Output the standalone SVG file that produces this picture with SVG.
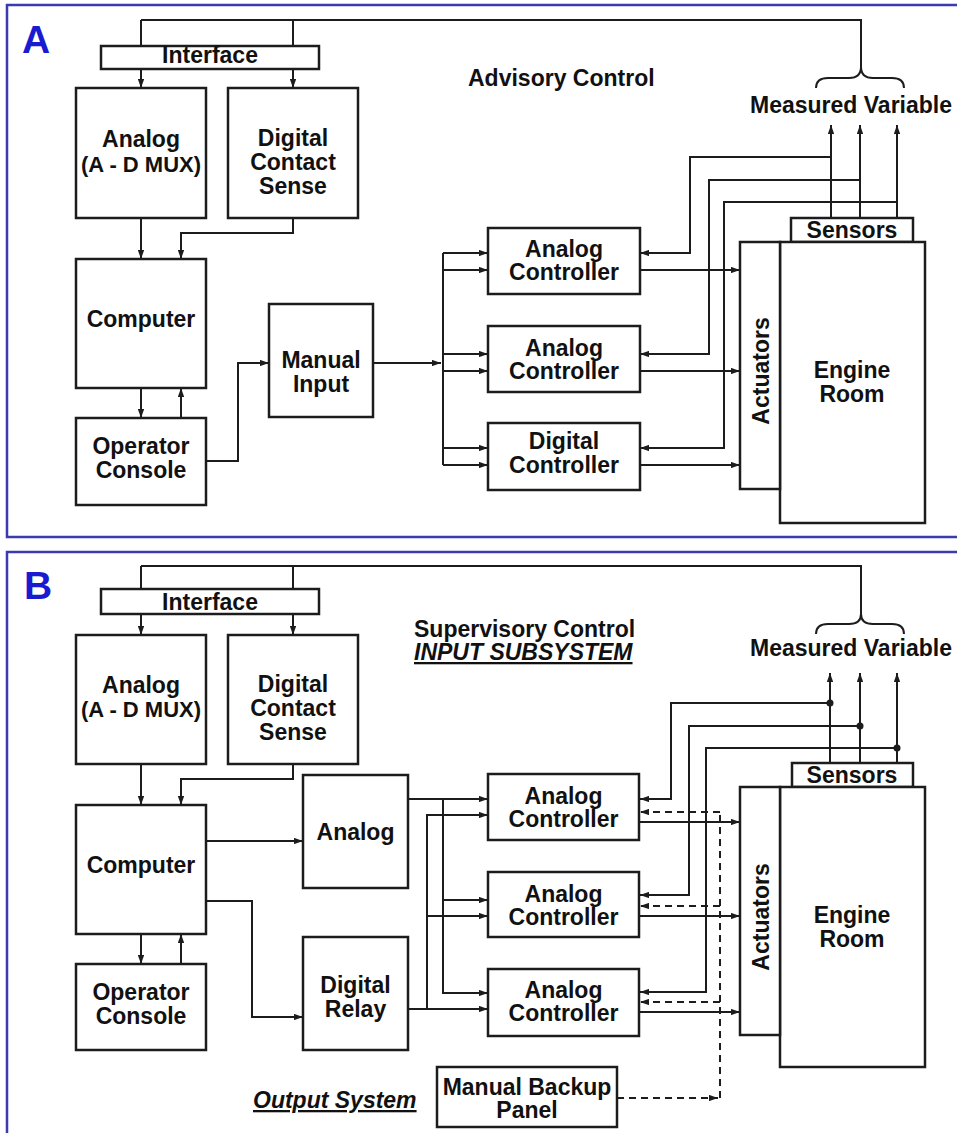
<svg xmlns="http://www.w3.org/2000/svg" width="957" height="1133" viewBox="0 0 957 1133">
<defs>
<marker id="ah" viewBox="0 0 10 7" refX="10" refY="3.5" markerWidth="9" markerHeight="6.5" markerUnits="userSpaceOnUse" orient="auto"><path d="M0,0 L10,3.5 L0,7 z" fill="#1c1c1c"/></marker>
<style>
.panel{fill:none;stroke:#3b3bb0;stroke-width:2.5}
.box{fill:#fff;stroke:#1c1c1c;stroke-width:2.5}
.t{font-family:"Liberation Sans",Arial,sans-serif;font-weight:bold;font-size:23px;fill:#111;text-anchor:middle}
.s{text-anchor:start}
.it{font-style:italic;text-decoration:underline}
.big{font-size:39px;fill:#1a1ad0;text-anchor:start}
.ln{fill:none;stroke:#1c1c1c;stroke-width:2}
.ar{marker-end:url(#ah)}
.dash{stroke-dasharray:7 5}
.dot{fill:#1c1c1c}
</style>
</defs>
<rect width="957" height="1133" fill="#fff"/>
<rect class="panel" x="7" y="5" width="1000" height="532"/>
<rect class="panel" x="7" y="552" width="1000" height="620"/>

<g id="labels">
<text class="t big" x="22" y="53">A</text>
<text class="t s" x="468" y="86">Advisory Control</text>
<text class="t s" x="750" y="113">Measured Variable</text>
<text class="t big" x="24" y="599">B</text>
<text class="t s" x="414" y="637">Supervisory Control</text>
<text class="t s it" x="414" y="660">INPUT SUBSYSTEM</text>
<text class="t s" x="750" y="656">Measured Variable</text>
<text class="t s it" x="253" y="1108">Output System</text>
</g>

<g id="connectors">
<!-- Panel A -->
<path class="ln" d="M141,20 H861 V67"/>
<path class="ln" d="M816,88 Q816,78 828,78 L849,78 Q861,78 861,67 Q861,78 873,78 L892,78 Q904,78 904,88"/>
<path class="ln ar" d="M141,20 V88"/>
<path class="ln ar" d="M293,20 V88"/>
<path class="ln ar" d="M141,218 V259"/>
<path class="ln ar" d="M293,218 V233 H181 V259"/>
<path class="ln ar" d="M141,388 V418"/>
<path class="ln ar" d="M181,418 V388"/>
<path class="ln ar" d="M206,461 H238 V363 H269"/>
<path class="ln ar" d="M373,363 H441"/>
<path class="ln" d="M443,253 V465"/>
<path class="ln ar" d="M443,253 H488"/>
<path class="ln ar" d="M443,270 H488"/>
<path class="ln ar" d="M443,354 H488"/>
<path class="ln ar" d="M443,371 H488"/>
<path class="ln ar" d="M443,448 H488"/>
<path class="ln ar" d="M443,465 H488"/>
<path class="ln ar" d="M831,157 H690 V253 H640"/>
<path class="ln ar" d="M860,180 H709 V354 H640"/>
<path class="ln ar" d="M897,202 H724 V448 H640"/>
<path class="ln ar" d="M831,218 V125"/>
<path class="ln ar" d="M860,218 V125"/>
<path class="ln ar" d="M897,218 V125"/>
<path class="ln ar" d="M640,270 H740"/>
<path class="ln ar" d="M640,371 H740"/>
<path class="ln ar" d="M640,465 H740"/>
<!-- Panel B -->
<path class="ln" d="M141,566 H861 V614"/>
<path class="ln" d="M816,634 Q816,624 828,624 L849,624 Q861,624 861,614 Q861,624 873,624 L892,624 Q904,624 904,634"/>
<path class="ln ar" d="M141,566 V635"/>
<path class="ln ar" d="M293,566 V635"/>
<path class="ln ar" d="M141,764 V805"/>
<path class="ln ar" d="M293,764 V779 H181 V805"/>
<path class="ln ar" d="M141,934 V964"/>
<path class="ln ar" d="M181,964 V934"/>
<path class="ln ar" d="M206,841 H303"/>
<path class="ln ar" d="M206,901 H252 V1017 H303"/>
<path class="ln ar" d="M408,799 H488"/>
<path class="ln ar" d="M443,799 V993 H488"/>
<path class="ln ar" d="M443,900 H488"/>
<path class="ln ar" d="M408,1009 H488"/>
<path class="ln ar" d="M427,1009 V815 H488"/>
<path class="ln ar" d="M427,916 H488"/>
<path class="ln ar" d="M830,703 H671 V799 H640"/>
<path class="ln ar" d="M860,726 H689 V895 H640"/>
<path class="ln ar" d="M897,748 H706 V992 H640"/>
<circle class="dot" cx="830" cy="703" r="3.5"/>
<circle class="dot" cx="860" cy="726" r="3.5"/>
<circle class="dot" cx="897" cy="748" r="3.5"/>
<path class="ln ar" d="M830,763 V673"/>
<path class="ln ar" d="M860,763 V673"/>
<path class="ln ar" d="M897,763 V673"/>
<path class="ln ar" d="M640,822 H740"/>
<path class="ln ar" d="M640,916 H740"/>
<path class="ln ar" d="M640,1012 H740"/>
<path class="ln dash ar" d="M617,1098 H718"/>
<path class="ln dash" d="M720,1098 V812"/>
<path class="ln dash ar" d="M720,812 H640"/>
<path class="ln dash ar" d="M720,906 H640"/>
<path class="ln dash ar" d="M720,1002 H640"/>
</g>

<!-- Panel A nodes -->
<g id="interfaceA"><rect class="box" x="101" y="46" width="218" height="23"/><text class="t" x="210" y="63">Interface</text></g>
<g id="analogA"><rect class="box" x="76" y="88" width="130" height="130"/><text class="t" x="141" y="147">Analog</text><text class="t" x="141" y="172" style="font-size:22px">(A - D MUX)</text></g>
<g id="dcsA"><rect class="box" x="228" y="88" width="130" height="130"/><text class="t" x="293" y="146">Digital</text><text class="t" x="293" y="170">Contact</text><text class="t" x="293" y="194">Sense</text></g>
<g id="computerA"><rect class="box" x="76" y="259" width="130" height="129"/><text class="t" x="141" y="327">Computer</text></g>
<g id="operatorA"><rect class="box" x="76" y="418" width="130" height="87"/><text class="t" x="141" y="454">Operator</text><text class="t" x="141" y="478">Console</text></g>
<g id="manualInputA"><rect class="box" x="269" y="304" width="104" height="113"/><text class="t" x="321" y="368">Manual</text><text class="t" x="321" y="392">Input</text></g>
<g id="ctrl1A"><rect class="box" x="488" y="228" width="152" height="66"/><text class="t" x="564" y="257">Analog</text><text class="t" x="564" y="280">Controller</text></g>
<g id="ctrl2A"><rect class="box" x="488" y="326" width="152" height="66"/><text class="t" x="564" y="356">Analog</text><text class="t" x="564" y="379">Controller</text></g>
<g id="ctrl3A"><rect class="box" x="488" y="423" width="152" height="67"/><text class="t" x="564" y="449">Digital</text><text class="t" x="564" y="473">Controller</text></g>
<g id="sensorsA"><rect class="box" x="791" y="218" width="122" height="24"/><text class="t" x="852" y="238">Sensors</text></g>
<g id="engineA"><rect class="box" x="780" y="242" width="145" height="281"/><text class="t" x="852" y="378">Engine</text><text class="t" x="852" y="402">Room</text></g>
<g id="actuatorsA"><rect class="box" x="740" y="242" width="40" height="247"/><text class="t" transform="translate(769,371) rotate(-90)">Actuators</text></g>

<!-- Panel B nodes -->
<g id="interfaceB"><rect class="box" x="101" y="589" width="218" height="25"/><text class="t" x="210" y="610">Interface</text></g>
<g id="analogB"><rect class="box" x="76" y="635" width="130" height="129"/><text class="t" x="141" y="693">Analog</text><text class="t" x="141" y="717" style="font-size:22px">(A - D MUX)</text></g>
<g id="dcsB"><rect class="box" x="228" y="635" width="130" height="129"/><text class="t" x="293" y="692">Digital</text><text class="t" x="293" y="716">Contact</text><text class="t" x="293" y="740">Sense</text></g>
<g id="computerB"><rect class="box" x="76" y="805" width="130" height="129"/><text class="t" x="141" y="873">Computer</text></g>
<g id="operatorB"><rect class="box" x="76" y="964" width="130" height="86"/><text class="t" x="141" y="1000">Operator</text><text class="t" x="141" y="1024">Console</text></g>
<g id="analogOutB"><rect class="box" x="303" y="775" width="105" height="113"/><text class="t" x="355.5" y="840">Analog</text></g>
<g id="relayB"><rect class="box" x="303" y="937" width="105" height="113"/><text class="t" x="355.5" y="993">Digital</text><text class="t" x="355.5" y="1017">Relay</text></g>
<g id="ctrl1B"><rect class="box" x="488" y="774" width="151" height="66"/><text class="t" x="563.5" y="804">Analog</text><text class="t" x="563.5" y="827">Controller</text></g>
<g id="ctrl2B"><rect class="box" x="488" y="872" width="151" height="65"/><text class="t" x="563.5" y="902">Analog</text><text class="t" x="563.5" y="925">Controller</text></g>
<g id="ctrl3B"><rect class="box" x="488" y="969" width="151" height="67"/><text class="t" x="563.5" y="998">Analog</text><text class="t" x="563.5" y="1021">Controller</text></g>
<g id="sensorsB"><rect class="box" x="792" y="763" width="121" height="24"/><text class="t" x="852" y="783">Sensors</text></g>
<g id="engineB"><rect class="box" x="780" y="787" width="145" height="280"/><text class="t" x="852" y="923">Engine</text><text class="t" x="852" y="947">Room</text></g>
<g id="actuatorsB"><rect class="box" x="740" y="787" width="40" height="248"/><text class="t" transform="translate(769,917) rotate(-90)">Actuators</text></g>
<g id="manualBackupB"><rect class="box" x="437" y="1067" width="180" height="60"/><text class="t" x="527" y="1095">Manual Backup</text><text class="t" x="527" y="1118">Panel</text></g>
</svg>
